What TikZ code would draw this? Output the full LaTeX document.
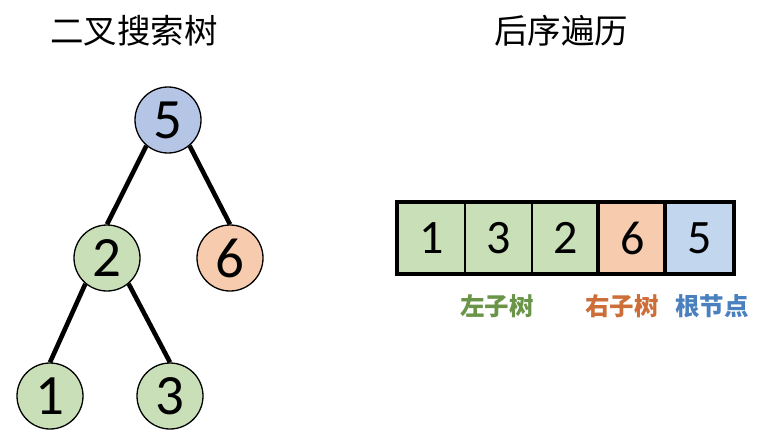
\documentclass[tikz,border=0pt]{standalone}
\usepackage{fontspec}
\setmainfont{Carlito}
\newfontfamily\cjk{Noto Sans CJK SC}
\definecolor{tgreen}{HTML}{C9DFB8}
\definecolor{torange}{HTML}{F6CBAE}
\definecolor{tblue}{HTML}{B4C5E6}
\definecolor{ablue}{HTML}{C2D7EE}
\definecolor{lgreen}{HTML}{6A9448}
\definecolor{lorange}{HTML}{CD6E38}
\definecolor{lblue}{HTML}{4A80BE}
\begin{document}
\begin{tikzpicture}[x=1pt,y=-1pt,
  tnode/.style={circle,draw=black,line width=1.3pt,minimum size=66pt,inner sep=0pt,font=\fontsize{57}{57}\selectfont},
  edge/.style={line width=4.6pt,black},
  cell/.style={rectangle,draw=black,line width=1.3pt,minimum width=67pt,minimum height=70pt,inner sep=0pt,font=\fontsize{48}{48}\selectfont},
  title/.style={font=\cjk\fontsize{33.5}{33.5}\selectfont},
  lab/.style={font=\cjk\bfseries\fontsize{24.5}{24.5}\selectfont}]
\useasboundingbox (0,0) rectangle (768,440);
\node[title] (t1) at (134,31) {二叉搜索树};
\node[title] (t2) at (561,31) {后序遍历};
\node[tnode,fill=tblue] (n5) at (168,120) {5};
\node[tnode,fill=tgreen] (n2) at (107,258) {2};
\node[tnode,fill=torange] (n6) at (230,258) {6};
\node[tnode,fill=tgreen] (n1) at (50,396) {1};
\node[tnode,fill=tgreen] (n3) at (170,396) {3};
\draw[edge] (n5.-130) -- (n2.north);
\draw[edge] (n5.-50) -- (n6.north);
\draw[edge] (n2.-130) -- (n1.north);
\draw[edge] (n2.-50) -- (n3.north);
\node[cell,fill=tgreen] (c1) at (431.5,238) {1};
\node[cell,fill=tgreen] (c2) at (498.5,238) {3};
\node[cell,fill=tgreen] (c3) at (565.5,238) {2};
\node[cell,fill=torange] (c4) at (632.5,238) {6};
\node[cell,fill=ablue] (c5) at (699.5,238) {5};
\draw[line width=4pt] (c1.north west) rectangle (c5.south east);
\draw[line width=4pt] (c4.north west) -- (c4.south west);
\draw[line width=4pt] (c5.north west) -- (c5.south west);
\node[lab,text=lgreen] (l1) at (497,306) {左子树};
\node[lab,text=lorange] (l2) at (622,306) {右子树};
\node[lab,text=lblue] (l3) at (712,306) {根节点};
\end{tikzpicture}
\end{document}
